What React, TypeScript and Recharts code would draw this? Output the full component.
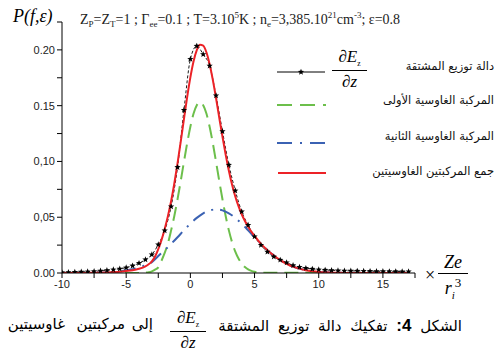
import React from 'react';
import { LineChart, Line, XAxis, YAxis } from 'recharts';

// x grid (half steps) shared by the derivative curve and the second gaussian
const xHalf = [
  -10, -9.5, -9, -8.5, -8, -7.5, -7, -6.5, -6, -5.5, -5, -4.5, -4, -3.5, -3, -2.5, -2, -1.5, -1, -0.5,
  0, 0.5, 1, 1.5, 2, 2.5, 3, 3.5, 4, 4.5, 5, 5.5, 6, 6.5, 7, 7.5, 8, 8.5, 9, 9.5,
  10, 10.5, 11, 11.5, 12, 12.5, 13, 13.5, 14, 14.5, 15, 15.5, 16, 16.5, 17,
];

// dE/dz distribution (stars)
const derivValues = [
  0.0005, 0.0006, 0.0008, 0.001, 0.0012, 0.0015, 0.0019, 0.0024, 0.003, 0.0038, 0.0048, 0.0065, 0.0088, 0.012, 0.0165, 0.0255, 0.038, 0.0595, 0.0948, 0.146,
  0.1917, 0.2035, 0.196, 0.1857, 0.159, 0.127, 0.0969, 0.0738, 0.055, 0.043, 0.0326, 0.025, 0.019, 0.0146, 0.0117, 0.0093, 0.0069, 0.0053, 0.0043, 0.0036,
  0.003, 0.0027, 0.0024, 0.0022, 0.002, 0.0019, 0.0018, 0.0017, 0.0016, 0.0015, 0.0015, 0.0014, 0.0014, 0.0013, 0.0013,
];

// second gaussian component (blue dash-dot)
const blueValues = [
  0, 0, 0, 0.0001, 0.0001, 0.0002, 0.0003, 0.0006, 0.001, 0.0016, 0.0024, 0.0033, 0.005, 0.007, 0.0098, 0.0152, 0.0205, 0.0261, 0.0321, 0.0383,
  0.0442, 0.0494, 0.0535, 0.0561, 0.057, 0.0561, 0.0535, 0.0494, 0.0442, 0.0383, 0.0321, 0.0261, 0.0205, 0.0157, 0.0116, 0.0083, 0.0057, 0.0039, 0.0025, 0.0016,
  0.001, 0.0006, 0.0003, 0.0002, 0.0001, 0.0001, 0, 0, 0, 0, 0, 0, 0, 0, 0,
];

// first gaussian component (green dashes), finer around the peak
const greenX = [
  -10, -4.5, -4, -3.5, -3.25, -3, -2.75, -2.5, -2.25, -2, -1.75, -1.5, -1.25, -1, -0.75, -0.5, -0.25, 0, 0.25, 0.5,
  0.75, 1, 1.25, 1.5, 1.75, 2, 2.25, 2.5, 2.75, 3, 3.25, 3.5, 3.75, 4, 4.25, 4.5, 4.75, 5, 5.5, 17,
];
const greenValues = [
  0, 0, 0, 0.0003, 0.0007, 0.0015, 0.003, 0.005, 0.011, 0.018, 0.0265, 0.0382, 0.0511, 0.0661, 0.0825, 0.0997, 0.1163, 0.1311, 0.1429, 0.1504,
  0.153, 0.1504, 0.1429, 0.1311, 0.1163, 0.0997, 0.0825, 0.0661, 0.0511, 0.0382, 0.0275, 0.0192, 0.013, 0.0084, 0.0053, 0.0032, 0.0019, 0.0011, 0.0003, 0,
];

// sum of the two components (red)
const redX = [
  -10, -9.5, -9, -8.5, -8, -7.5, -7, -6.5, -6, -5.5, -5, -4.5, -4, -3.5,
  -3.25, -3, -2.75, -2.5, -2.25, -2, -1.75, -1.5, -1.25, -1, -0.75, -0.5, -0.25, 0, 0.25, 0.5, 0.75, 1, 1.25, 1.5, 1.75,
  2, 2.25, 2.5, 2.75, 3, 3.25, 3.5, 3.75, 4, 4.25, 4.5, 4.75, 5,
  5.5, 6, 6.5, 7, 7.5, 8, 8.5, 9, 9.5, 10, 10.5, 11, 11.5, 12, 12.5, 13, 13.5, 14, 14.5, 15, 15.5, 16, 16.5, 17,
];
const redValues = [
  0, 0, 0, 0.0001, 0.0001, 0.0002, 0.0003, 0.0005, 0.0008, 0.0012, 0.0018, 0.0025, 0.0038, 0.006,
  0.0078, 0.0105, 0.0148, 0.0215, 0.0295, 0.0395, 0.051, 0.0643, 0.0802, 0.0982, 0.1177, 0.138, 0.1576, 0.1753, 0.1898, 0.1998, 0.2046, 0.2039, 0.1979, 0.1872, 0.1731,
  0.1567, 0.1393, 0.1222, 0.1061, 0.0917, 0.0791, 0.0686, 0.0599, 0.0526, 0.0466, 0.0415, 0.0371, 0.0332,
  0.0261, 0.0205, 0.0157, 0.0116, 0.0083, 0.0057, 0.0039, 0.0025, 0.0016, 0.001, 0.0006, 0.0003, 0.0002, 0.0001, 0.0001, 0, 0, 0, 0, 0, 0, 0, 0, 0,
];

const xTicks = [-10, -7.5, -5, -2.5, 0, 2.5, 5, 7.5, 10, 12.5, 15, 17.5];
const xTickLabels = ['-10', '', '-5', '', '0', '', '5', '', '10', '', '15', ''];
const yTicks = [0, 0.025, 0.05, 0.075, 0.1, 0.125, 0.15, 0.175, 0.2, 0.225];
const yTickLabels = ['0.00', '', '0,05', '', '0,10', '', '0.15', '', '0.20', ''];

const legendLabels = [
  'دالة توزيع المشتقة',
  'المركبة الغاوسية الأولى',
  'المركبة الغاوسية الثانية',
  'جمع المركبتين الغاوسيتين',
];

// caption: right part, then the words left of the fraction (right to left)
const captionRight = 'تفكيك دالة توزيع المشتقة';
const captionLeftWords = ['إلى', 'مركبتين', 'غاوسيتين'];

const GREEN = '#6cbf4b';
const BLUE = '#3b62b3';
const RED = '#ec2227';

const zip = (xs: number[], ys: number[]) => xs.map((x, i) => ({ x, y: ys[i] }));

const starPath = (cx: number, cy: number, ro: number, ri: number) => {
  let d = '';
  for (let i = 0; i < 10; i++) {
    const a = (-90 + i * 36) * Math.PI / 180;
    const r = i % 2 === 0 ? ro : ri;
    d += (i === 0 ? 'M' : 'L') + (cx + r * Math.cos(a)).toFixed(2) + ',' + (cy + r * Math.sin(a)).toFixed(2);
  }
  return d + 'Z';
};

const StarDot = (props: any) => {
  const { cx, cy, index } = props;
  if (cx == null || cy == null) return <g key={`s-${index}`} />;
  return <path key={`s-${index}`} d={starPath(cx, cy, 3.3, 1.4)} fill="#000" />;
};

const serif = "'Liberation Serif', 'DejaVu Serif', serif";
const arabic = "'DejaVu Sans', 'Noto Sans', sans-serif";

const Frac: React.FC<{ left: number; top: number; size: number; barW: number; num: React.ReactNode; den: React.ReactNode }> = ({ left, top, size, barW, num, den }) => (
  <div style={{ position: 'absolute', left, top, width: barW, fontFamily: serif, fontSize: size, lineHeight: 1 }}>
    <div style={{ textAlign: 'center', whiteSpace: 'nowrap' }}>{num}</div>
    <div style={{ borderTop: '1px solid #000', margin: '2px 0' }} />
    <div style={{ textAlign: 'center', whiteSpace: 'nowrap' }}>{den}</div>
  </div>
);

const dEdz = (size: number) => ({
  num: (
    <span>
      ∂<i>E</i>
      <sub style={{ fontSize: size * 0.45 }}>z</sub>
    </span>
  ),
  den: (
    <span>
      ∂<i>z</i>
    </span>
  ),
});

export default function App() {
  const deriv = zip(xHalf, derivValues);
  const blue = zip(xHalf, blueValues);
  const green = zip(greenX, greenValues);
  const red = zip(redX, redValues);
  const tickStyle = { fontFamily: "'Liberation Sans', Arial, sans-serif", fontSize: 11, fill: '#222' };
  const legendY = [72, 105, 143, 173];
  const legendTop = [61, 95, 131, 166];
  const wordRight = [343, 371, 431];
  const f1 = dEdz(17);
  const f2 = dEdz(17);

  return (
    <div style={{ position: 'absolute', left: 0, top: 0, width: 496, height: 352, background: '#fff' }}>
      <LineChart width={496} height={352} data={deriv} margin={{ top: 22, right: 81, bottom: 49, left: 0 }}>
        <XAxis
          dataKey="x"
          type="number"
          domain={[-10, 17.5]}
          ticks={xTicks}
          tickFormatter={(v: number) => xTickLabels[xTicks.indexOf(v)] ?? ''}
          tick={tickStyle}
          tickSize={5}
          height={30}
          stroke="#000"
          allowDataOverflow
        />
        <YAxis
          type="number"
          domain={[0, 0.225]}
          ticks={yTicks}
          tickFormatter={(v: number) => yTickLabels[yTicks.indexOf(v)] ?? ''}
          tick={tickStyle}
          tickSize={5}
          width={62}
          stroke="#000"
          allowDataOverflow
        />
        <Line data={deriv} dataKey="y" type="monotone" stroke="#000" strokeWidth={0.9} strokeDasharray="3 2" dot={StarDot} isAnimationActive={false} />
        <Line data={green} dataKey="y" type="monotone" stroke={GREEN} strokeWidth={2} strokeDasharray="14 7" dot={false} isAnimationActive={false} />
        <Line data={blue} dataKey="y" type="monotone" stroke={BLUE} strokeWidth={2} strokeDasharray="14 7 2 7" dot={false} isAnimationActive={false} />
        <Line data={red} dataKey="y" type="monotone" stroke={RED} strokeWidth={2} dot={false} isAnimationActive={false} />
      </LineChart>

      {/* legend samples */}
      <svg width={496} height={352} style={{ position: 'absolute', left: 0, top: 0, pointerEvents: 'none' }}>
        <line x1={277} x2={325} y1={legendY[0]} y2={legendY[0]} stroke="#000" strokeWidth={1} />
        <path d={starPath(301, legendY[0], 3.3, 1.4)} fill="#000" />
        <line x1={277} x2={326} y1={legendY[1]} y2={legendY[1]} stroke={GREEN} strokeWidth={2} strokeDasharray="15 8" />
        <line x1={277} x2={326} y1={legendY[2]} y2={legendY[2]} stroke={BLUE} strokeWidth={2} strokeDasharray="15 8 2 8" />
        <line x1={278} x2={326} y1={legendY[3]} y2={legendY[3]} stroke={RED} strokeWidth={2} />
      </svg>

      <Frac left={332} top={48} size={17} barW={35} num={f1.num} den={f1.den} />
      {legendLabels.map((t, i) => (
        <div
          key={t}
          dir="rtl"
          style={{ position: 'absolute', right: 2, top: legendTop[i], fontFamily: arabic, fontSize: 11.5, lineHeight: 1, whiteSpace: 'nowrap', color: '#111' }}
        >
          {t}
        </div>
      ))}

      {/* axis titles */}
      <div style={{ position: 'absolute', left: 13, top: 7, fontFamily: serif, fontStyle: 'italic', fontSize: 18, lineHeight: 1 }}>P(f,ε)</div>
      <div style={{ position: 'absolute', left: 80, top: 11, fontFamily: serif, fontSize: 14, lineHeight: 1, whiteSpace: 'nowrap', color: '#222' }}>
        Z<sub style={{ fontSize: 9 }}>P</sub>=Z<sub style={{ fontSize: 9 }}>T</sub>=1 ; Γ<sub style={{ fontSize: 9 }}>ee</sub>=0.1 ; T=3.10
        <sup style={{ fontSize: 9 }}>5</sup>K ; n<sub style={{ fontSize: 9 }}>e</sub>=3,385.10<sup style={{ fontSize: 9 }}>21</sup>cm
        <sup style={{ fontSize: 9 }}>-3</sup>; ε=0.8
      </div>

      <div style={{ position: 'absolute', left: 425, top: 266, fontFamily: serif, fontSize: 18, lineHeight: 1 }}>×</div>
      <Frac
        left={438}
        top={253}
        size={18}
        barW={30}
        num={<i>Ze</i>}
        den={
          <span>
            <i>r</i>
            <sub style={{ fontSize: 11 }}>
              <i>i</i>
            </sub>
            <sup style={{ fontSize: 13 }}>3</sup>
          </span>
        }
      />

      {/* caption */}
      <div dir="rtl" style={{ position: 'absolute', right: 34, top: 317, fontFamily: arabic, fontSize: 15, wordSpacing: 4, lineHeight: 1, whiteSpace: 'nowrap' }}>
        الشكل <b style={{ fontFamily: "'Liberation Sans', Arial, sans-serif", fontSize: 17 }}>4:</b> {captionRight}
      </div>
      <Frac left={170} top={309} size={17} barW={36} num={f2.num} den={f2.den} />
      {captionLeftWords.map((w, i) => (
        <div
          key={w}
          dir="rtl"
          style={{ position: 'absolute', right: wordRight[i], top: 317, fontFamily: arabic, fontSize: 15, lineHeight: 1, whiteSpace: 'nowrap' }}
        >
          {w}
        </div>
      ))}
    </div>
  );
}
